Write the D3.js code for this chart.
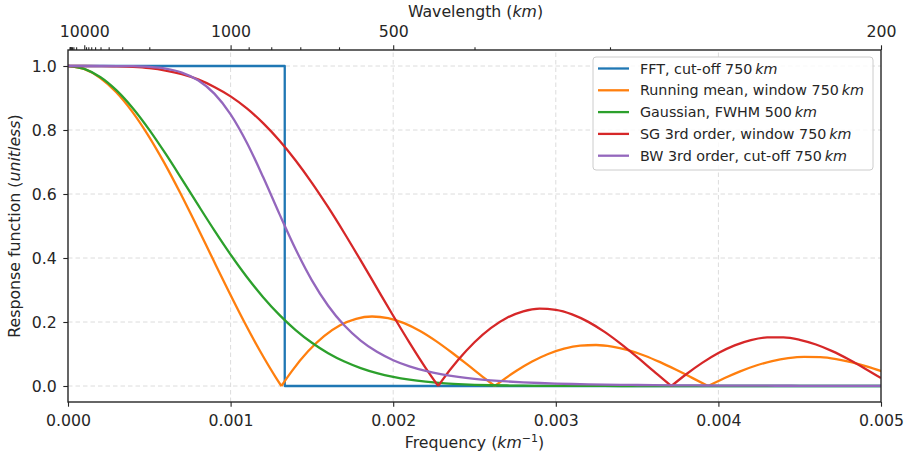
<!DOCTYPE html>
<html>
<head>
<meta charset="utf-8">
<script src="https://cdn.jsdelivr.net/npm/d3@7"></script>
<style>
  html, body { margin: 0; padding: 0; background: #fff; }
  svg { display: block; font-family: "DejaVu Sans", sans-serif; }
</style>
</head>
<body>
<div id="chart"></div>
<script>
// ---------------- data ----------------
const seriesNames = [
  "FFT, cut-off 750", "Running mean, window 750", "Gaussian, FWHM 500",
  "SG 3rd order, window 750", "BW 3rd order, cut-off 750"
];
const seriesColors = ["#1f77b4", "#ff7f0e", "#2ca02c", "#d62728", "#9467bd"];

const xTicks = [0.000, 0.001, 0.002, 0.003, 0.004, 0.005];
const xTickLabels = ["0.000", "0.001", "0.002", "0.003", "0.004", "0.005"];
const yTicks = [0.0, 0.2, 0.4, 0.6, 0.8, 1.0];
const yTickLabels = ["0.0", "0.2", "0.4", "0.6", "0.8", "1.0"];
const wavelengthMajor = [10000, 1000, 500, 200];
const wavelengthMajorLabels = ["10000", "1000", "500", "200"];
const wavelengthMinor = [100000, 90000, 80000, 70000, 60000, 50000, 40000, 30000, 20000,
  9000, 8000, 7000, 6000, 5000, 4000, 3000, 2000, 900, 800, 700, 600, 400, 300];

// FFT
const fftFreq = [0, 0.001333, 0.001333, 0.005];
const fftResp = [1, 1, 0, 0];

// Running mean
const rmFreq = [0, 0.0000984, 0.0001969, 0.0002953, 0.0003937, 0.0004921, 0.0005906, 0.0006890,
  0.0007874, 0.0008858, 0.0009843, 0.0010827, 0.0011811, 0.0012795, 0.0013123, 0.0013780,
  0.0014764, 0.0015748, 0.0016732, 0.0017717, 0.0018701, 0.0019685, 0.0020669, 0.0021654,
  0.0022638, 0.0023622, 0.0024606, 0.0025591, 0.0026247, 0.0026575, 0.0027559, 0.0028543,
  0.0029528, 0.0030512, 0.0031496, 0.0032480, 0.0033465, 0.0034449, 0.0035433, 0.0036417,
  0.0037402, 0.0038386, 0.0039370, 0.0040354, 0.0041339, 0.0042323, 0.0043307, 0.0044291,
  0.0045276, 0.0046260, 0.0047244, 0.0048228, 0.0049213, 0.0050197];
const rmResp = [1, 0.9908, 0.9634, 0.9188, 0.8584, 0.7842, 0.6987, 0.6044, 0.5046, 0.4021,
  0.3001, 0.2016, 0.1093, 0.0256, 0, 0.0474, 0.1083, 0.1559, 0.1898, 0.2101, 0.2172, 0.2122,
  0.1965, 0.1719, 0.1403, 0.1039, 0.0650, 0.0255, 0, 0.0123, 0.0468, 0.0765, 0.1000, 0.1167,
  0.1261, 0.1282, 0.1233, 0.1120, 0.0954, 0.0745, 0.0507, 0.0254, 0, 0.0242, 0.0459, 0.0641,
  0.0780, 0.0871, 0.0911, 0.0900, 0.0841, 0.0739, 0.0600, 0.0435];

// common frequency grid
const gridFreq = [0, 0.0001, 0.0002, 0.0003, 0.0004, 0.0005, 0.0006, 0.0007, 0.0008, 0.0009,
  0.0010, 0.0011, 0.0012, 0.0013, 0.0014, 0.0015, 0.0016, 0.0017, 0.0018, 0.0019,
  0.0020, 0.0021, 0.0022, 0.0023, 0.0024, 0.0025, 0.0026, 0.0027, 0.0028, 0.0029,
  0.0030, 0.0031, 0.0032, 0.0033, 0.0034, 0.0035, 0.0036, 0.0037, 0.0038, 0.0039,
  0.0040, 0.0041, 0.0042, 0.0043, 0.0044, 0.0045, 0.0046, 0.0047, 0.0048, 0.0049, 0.0050];

// Gaussian
const gaussResp = [1, 0.9911, 0.9650, 0.9230, 0.8673, 0.8005, 0.7259, 0.6466, 0.5658, 0.4864,
  0.4108, 0.3407, 0.2777, 0.2223, 0.1748, 0.1351, 0.1025, 0.0764, 0.0560, 0.0403,
  0.0285, 0.0198, 0.0135, 0.0090, 0.0060, 0.0038, 0.0024, 0.0015, 0.0009, 0.0006,
  0.0003, 0.0002, 0.0001, 0.0001, 0, 0, 0, 0, 0, 0,
  0, 0, 0, 0, 0, 0, 0, 0, 0, 0, 0];

// Savitzky-Golay (zeros inserted at 0.002277 and 0.003711)
const sgFreq = [0, 0.0001, 0.0002, 0.0003, 0.0004, 0.0005, 0.0006, 0.0007, 0.0008, 0.0009,
  0.0010, 0.0011, 0.0012, 0.0013, 0.0014, 0.0015, 0.0016, 0.0017, 0.0018, 0.0019,
  0.0020, 0.0021, 0.0022, 0.002277, 0.0023, 0.0024, 0.0025, 0.0026, 0.0027, 0.0028, 0.0029,
  0.0030, 0.0031, 0.0032, 0.0033, 0.0034, 0.0035, 0.0036, 0.0037, 0.003711, 0.0038, 0.0039,
  0.0040, 0.0041, 0.0042, 0.0043, 0.0044, 0.0045, 0.0046, 0.0047, 0.0048, 0.0049, 0.0050];
const sgResp = [1, 1.0000, 0.9998, 0.9991, 0.9971, 0.9931, 0.9859, 0.9747, 0.9582, 0.9346,
  0.9052, 0.8676, 0.8215, 0.7672, 0.7048, 0.6350, 0.5588, 0.4774, 0.3925, 0.3059,
  0.2196, 0.1357, 0.0562, 0, 0.0168, 0.0817, 0.1367, 0.1809, 0.2133, 0.2335, 0.2416,
  0.2381, 0.2240, 0.2004, 0.1690, 0.1316, 0.0904, 0.0474, 0.0046, 0, 0.0359, 0.0723,
  0.1031, 0.1271, 0.1435, 0.1517, 0.1519, 0.1443, 0.1296, 0.1089, 0.0835, 0.0550, 0.0247];

// Butterworth
const bwResp = [1, 1, 1, 0.9999, 0.9993, 0.9972, 0.9918, 0.9795, 0.9554, 0.9136,
  0.8489, 0.7603, 0.6530, 0.5379, 0.4273, 0.3303, 0.2509, 0.1888, 0.1418, 0.1067,
  0.0807, 0.0615, 0.0472, 0.0366, 0.0286, 0.0225, 0.0179, 0.0143, 0.0115, 0.0094,
  0.0077, 0.0063, 0.0052, 0.0043, 0.0036, 0.0031, 0.0026, 0.0022, 0.0019, 0.0016,
  0.0014, 0.0012, 0.0010, 0.0009, 0.0008, 0.0007, 0.0006, 0.0005, 0.0005, 0.0004, 0.0004];

// ---------------- chart ----------------
const W = 907, H = 458;
const margin = { left: 68, right: 26, top: 50, bottom: 56 };
const textColor = "#262626";

const svg = d3.select("#chart").append("svg").attr("width", W).attr("height", H);

const x = d3.scaleLinear().domain([0, 0.005]).range([margin.left, W - margin.right]);
const y = d3.scaleLinear().domain([-0.05, 1.05]).range([H - margin.bottom, margin.top]);

// grid
const grid = svg.append("g").attr("stroke", "#dcdcdc").attr("stroke-width", 1)
  .attr("stroke-dasharray", "4.5,3");
grid.selectAll("line.gx").data(xTicks.slice(1, -1)).join("line")
  .attr("x1", d => x(d)).attr("x2", d => x(d))
  .attr("y1", y(-0.05)).attr("y2", y(1.05));
grid.selectAll("line.gy").data(yTicks).join("line")
  .attr("x1", x(0)).attr("x2", x(0.005))
  .attr("y1", d => y(d)).attr("y2", d => y(d));

// clip
svg.append("clipPath").attr("id", "clip").append("rect")
  .attr("x", x(0)).attr("y", y(1.05)).attr("width", x(0.005) - x(0)).attr("height", y(-0.05) - y(1.05));

const series = [
  { f: fftFreq, r: fftResp, curve: d3.curveLinear },
  { f: rmFreq, r: rmResp, curve: d3.curveMonotoneX },
  { f: gridFreq, r: gaussResp, curve: d3.curveMonotoneX },
  { f: sgFreq, r: sgResp, curve: d3.curveMonotoneX },
  { f: gridFreq, r: bwResp, curve: d3.curveMonotoneX },
];

const plot = svg.append("g").attr("clip-path", "url(#clip)");
series.forEach((s, i) => {
  const pts = s.f.map((f, j) => [f, s.r[j]]);
  let d = "";
  if (s.curve === d3.curveLinear) {
    d = d3.line().x(p => x(p[0])).y(p => y(p[1]))(pts);
  } else {
    // split at zero crossings (sharp notches of |response|)
    const segs = [];
    let cur = [];
    pts.forEach((p, j) => {
      cur.push(p);
      if (p[1] === 0 && j > 0 && j < pts.length - 1 && pts[j - 1][1] !== 0 && pts[j + 1][1] !== 0) {
        segs.push(cur);
        cur = [p];
      }
    });
    segs.push(cur);
    const line = d3.line().x(p => x(p[0])).y(p => y(p[1])).curve(s.curve);
    d = segs.map(sg => line(sg)).join("");
  }
  plot.append("path").attr("d", d).attr("fill", "none")
    .attr("stroke", seriesColors[i]).attr("stroke-width", 2.3)
    .attr("stroke-linejoin", "round").attr("stroke-linecap", "butt");
});

// axes
const axFont = 15.75;
const bottomAxis = d3.axisBottom(x).tickValues(xTicks).tickFormat((d, i) => xTickLabels[i])
  .tickSize(4.7).tickPadding(8);
const gB = svg.append("g").attr("transform", `translate(0,${y(-0.05)})`).call(bottomAxis);
const leftAxis = d3.axisLeft(y).tickValues(yTicks).tickFormat((d, i) => yTickLabels[i])
  .tickSize(4.7).tickPadding(6.5);
const gL = svg.append("g").attr("transform", `translate(${x(0)},0)`).call(leftAxis);
const topAxis = d3.axisTop(x).tickValues(wavelengthMajor.map(w => 1 / w))
  .tickFormat((d, i) => wavelengthMajorLabels[i]).tickSize(4.7).tickPadding(8.6);
const gT = svg.append("g").attr("transform", `translate(0,${y(1.05)})`).call(topAxis);
const topMinor = d3.axisTop(x).tickValues(wavelengthMinor.map(w => 1 / w))
  .tickFormat("").tickSize(2.7);
const gTm = svg.append("g").attr("transform", `translate(0,${y(1.05)})`).call(topMinor);

[gB, gL, gT, gTm].forEach(g => {
  g.select(".domain").remove();
  g.selectAll(".tick line").attr("stroke", textColor).attr("stroke-width", 1.1);
  g.selectAll(".tick text").attr("fill", textColor).attr("font-size", axFont)
    .attr("font-family", "DejaVu Sans");
});

// spines
svg.append("rect").attr("x", x(0)).attr("y", y(1.05))
  .attr("width", x(0.005) - x(0)).attr("height", y(-0.05) - y(1.05))
  .attr("fill", "none").attr("stroke", textColor).attr("stroke-width", 1.4);

// axis labels
const lab = svg.append("g").attr("fill", textColor).attr("font-size", axFont);
const xl = lab.append("text").attr("x", (x(0) + x(0.005)) / 2).attr("y", 448).attr("text-anchor", "middle");
xl.append("tspan").text("Frequency (");
xl.append("tspan").attr("font-style", "italic").text("km");
xl.append("tspan").attr("font-size", axFont * 0.7).attr("dy", -6.5).text("\u22121");
xl.append("tspan").attr("dy", 6.5).text(")");

const tl = lab.append("text").attr("x", (x(0) + x(0.005)) / 2 + 1).attr("y", 16.5).attr("text-anchor", "middle");
tl.append("tspan").text("Wavelength (");
tl.append("tspan").attr("font-style", "italic").text("km");
tl.append("tspan").text(")");

const yl = lab.append("text").attr("transform", `translate(19.5,${(y(-0.05) + y(1.05)) / 2}) rotate(-90)`)
  .attr("text-anchor", "middle");
yl.append("tspan").text("Response function (");
yl.append("tspan").attr("font-style", "italic").text("unitless");
yl.append("tspan").text(")");

// legend
const lg = svg.append("g").attr("transform", "translate(593,57)");
lg.append("rect").attr("width", 280).attr("height", 113).attr("rx", 3)
  .attr("fill", "#fff").attr("fill-opacity", 0.8).attr("stroke", "#cccccc").attr("stroke-width", 1);
seriesNames.forEach((name, i) => {
  const yy = 11.5 + i * 21.8;
  lg.append("line").attr("x1", 5).attr("x2", 36).attr("y1", yy).attr("y2", yy)
    .attr("stroke", seriesColors[i]).attr("stroke-width", 2.3);
  const t = lg.append("text").attr("x", 47).attr("y", yy + 5).attr("fill", textColor)
    .attr("font-size", 14.3);
  t.append("tspan").text(name + "\u2009");
  t.append("tspan").attr("font-style", "italic").text("km");
});
</script>
</body>
</html>
